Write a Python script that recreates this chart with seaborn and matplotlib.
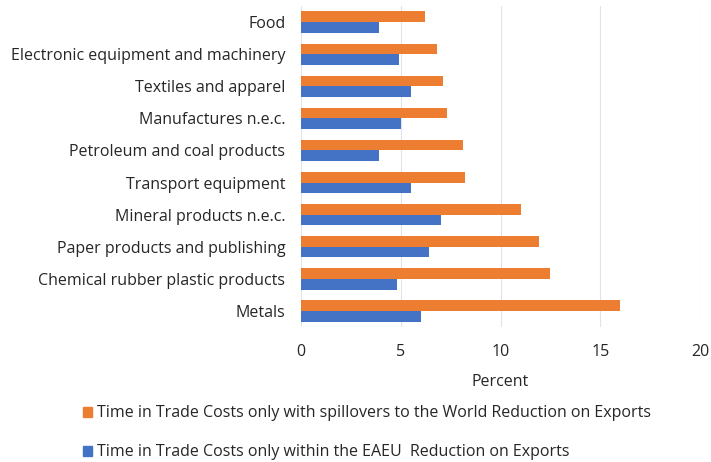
import pandas as pd
import matplotlib.pyplot as plt
import seaborn as sns
from matplotlib.patches import Patch

# Sectors, top to bottom as drawn
sectors = ['Food', 'Electronic equipment and machinery', 'Textiles and apparel',
           'Manufactures n.e.c.', 'Petroleum and coal products', 'Transport equipment',
           'Mineral products n.e.c.', 'Paper products and publishing',
           'Chemical rubber plastic products', 'Metals']
world = [6.2, 6.8, 7.1, 7.3, 8.1, 8.2, 11.0, 11.9, 12.5, 16.0]
eaeu = [3.9, 4.9, 5.5, 5.0, 3.9, 5.5, 7.0, 6.4, 4.8, 6.0]

world_label = 'Time in Trade Costs only with spillovers to the World Reduction on Exports'
eaeu_label = 'Time in Trade Costs only within the EAEU  Reduction on Exports'
colors = {world_label: '#ED7D31', eaeu_label: '#4472C4'}

df = pd.DataFrame({
    'sector': sectors * 2,
    'value': world + eaeu,
    'series': [world_label] * len(sectors) + [eaeu_label] * len(sectors),
})

sns.set_style('white')
plt.rcParams['font.family'] = ['Open Sans', 'DejaVu Sans']
txt = '#262626'

fig = plt.figure(figsize=(7.11, 4.62), dpi=100)
ax = fig.add_axes([0.423, 0.292, 0.562, 0.695])

sns.barplot(data=df, y='sector', x='value', hue='series', order=sectors,
            hue_order=[world_label, eaeu_label], palette=colors,
            width=0.66, saturation=1, linewidth=0, ax=ax, legend=False)

ax.set_xlim(0, 20)
ax.set_xticks([0, 5, 10, 15, 20])
ax.grid(axis='x', color='#dfe3ea', linewidth=0.8)
ax.set_axisbelow(True)
sns.despine(ax=ax, left=True, bottom=True)
ax.tick_params(axis='both', length=0, labelsize=11.5, colors=txt)
ax.tick_params(axis='x', pad=12)
ax.tick_params(axis='y', pad=11)
ax.set_ylabel('')
ax.set_xlabel('Percent', fontsize=11.5, color=txt, labelpad=10)

handles = [Patch(color=colors[world_label], label=world_label),
           Patch(color=colors[eaeu_label], label=eaeu_label)]
fig.legend(handles=handles, loc='upper left', bbox_to_anchor=(0.105, 0.14),
           frameon=False, fontsize=11.5, labelspacing=1.45, handlelength=0.6,
           handleheight=0.6, handletextpad=0.3, borderpad=0, labelcolor=txt)

fig.savefig('out.png', dpi=100)
